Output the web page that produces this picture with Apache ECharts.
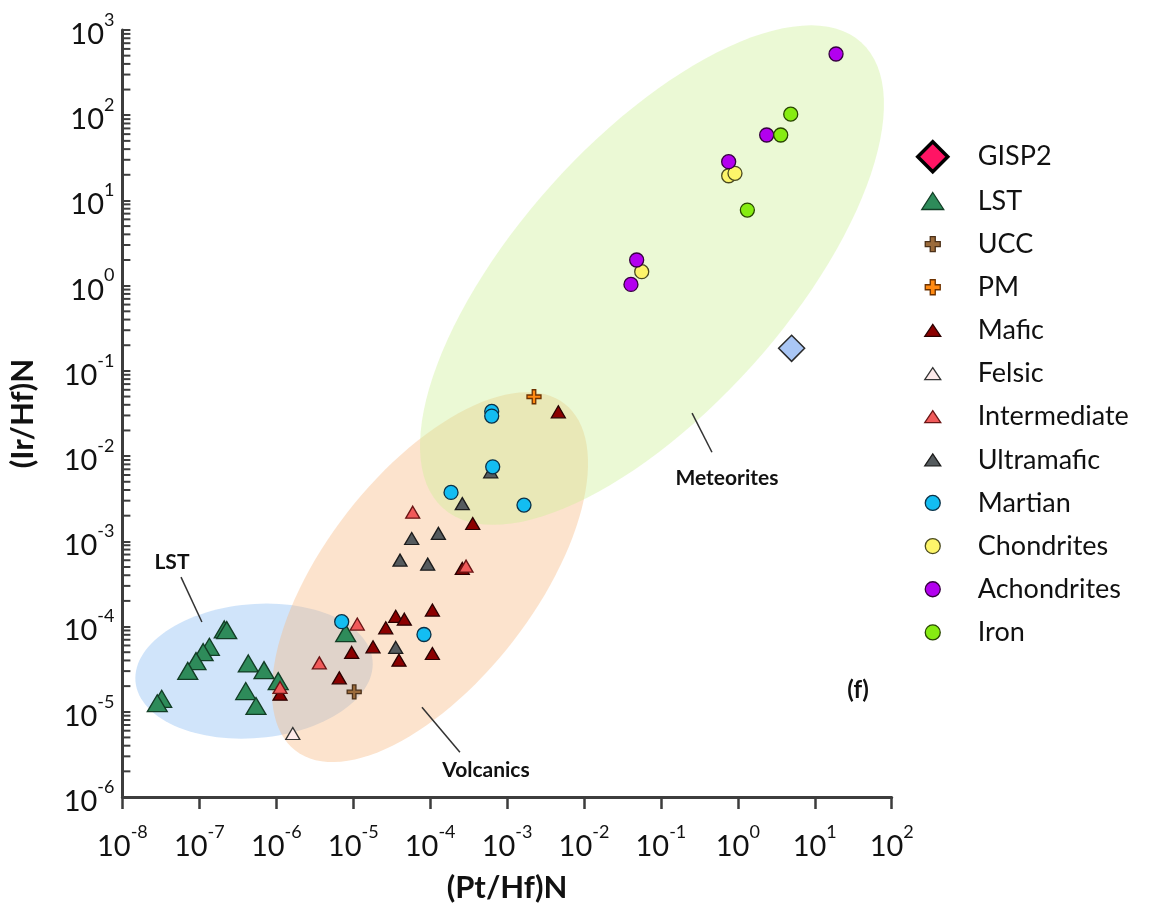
<!DOCTYPE html>
<html>
<head>
<meta charset="utf-8">
<script src="https://cdn.jsdelivr.net/npm/echarts@6/dist/echarts.min.js"></script>
<style>
  html, body { margin: 0; padding: 0; background: #ffffff; }
  #chart { width: 1149px; height: 913px; }
</style>
</head>
<body>
<div id="chart"></div>
<script>
// Samples as [(Pt/Hf)N, (Ir/Hf)N] pairs
const gisp2 = [[5.0, 0.184]];
const lst = [
  [2.11e-7, 9.25e-5], [2.27e-7, 9.08e-5], [1.35e-7, 5.78e-5], [1.12e-7, 5.01e-5],
  [9.05e-8, 3.93e-5], [7.07e-8, 3.02e-5], [3.24e-8, 1.42e-5], [2.84e-8, 1.26e-5],
  [4.33e-7, 3.69e-5], [6.93e-7, 3.08e-5], [1.06e-6, 2.29e-5], [4.01e-7, 1.75e-5],
  [5.45e-7, 1.17e-5], [7.99e-6, 8.37e-5]
];
const ucc = [[1.03e-5, 1.71e-5]];
const pm = [[2.24e-3, 0.0497]];
const mafic = [
  [4.64e-3, 0.0331], [3.58e-4, 1.62e-3], [2.62e-4, 4.81e-4], [1.07e-4, 1.56e-4],
  [3.57e-5, 1.32e-4], [4.62e-5, 1.22e-4], [2.65e-5, 9.66e-5], [1.81e-5, 5.78e-5],
  [9.56e-6, 4.97e-5], [3.94e-5, 4.03e-5], [1.07e-4, 4.83e-5], [6.60e-6, 2.50e-5],
  [1.12e-6, 1.61e-5]
];
const felsic = [[1.64e-6, 5.56e-6]];
const intermediate = [
  [5.94e-5, 2.20e-3], [2.93e-4, 5.12e-4], [1.13e-5, 1.07e-4], [3.63e-6, 3.75e-5],
  [1.12e-6, 1.93e-5]
];
const ultramafic = [
  [6.13e-4, 6.54e-3], [2.62e-4, 2.77e-3], [5.76e-5, 1.08e-3], [1.28e-4, 1.24e-3],
  [4.06e-5, 6.02e-4], [9.30e-5, 5.40e-4], [3.57e-5, 5.69e-5]
];
const martian = [
  [6.32e-4, 0.0335], [6.32e-4, 0.0295], [6.51e-4, 7.49e-3], [1.87e-4, 3.75e-3],
  [1.66e-3, 2.66e-3], [7.09e-6, 1.14e-4], [8.32e-5, 8.07e-5]
];
const chondrites = [[0.760, 19.5], [0.918, 20.8], [0.0563, 1.46]];
const achondrites = [[18.9, 523], [2.37, 58.6], [0.760, 28.5], [0.0484, 2.00], [0.0408, 1.035]];
const iron = [[4.87, 103], [3.61, 58.6], [1.33, 7.71]];

// Field ellipses in log10 units: centre, semi-major and semi-minor vectors
const fieldNames = ['LST', 'Volcanics', 'Meteorites'];
const fieldCentres = [[-6.289, -4.523], [-4.002, -3.420], [-1.116, 0.124]];
const fieldMajor = [[1.541, 0.1215], [1.749, 2.035], [2.718, 2.733]];
const fieldMinor = [[0.0758, -0.783], [1.078, -0.755], [1.306, -1.058]];
const fieldColours = ['rgba(150,195,245,0.45)', 'rgba(248,185,130,0.40)', 'rgba(205,240,150,0.40)'];

// Field labels with their leader lines
const noteText = ['LST', 'Volcanics', 'Meteorites', '(f)'];
const noteAt = [[4.41e-8, 5.70e-4], [5.32e-4, 2.07e-6], [0.722, 5.52e-3], [36.5, 1.79e-5]];
const noteFrom = [[5.78e-8, 3.80e-4], [2.44e-4, 3.36e-6], [0.461, 0.0111], null];
const noteTo = [[1.08e-7, 1.13e-4], [7.83e-5, 1.13e-5], [0.254, 0.032], null];

// Axis ranges (decades)
const xMinExp = -8, xMaxExp = 2;
const yMinExp = -6, yMaxExp = 3;

const FONT = 'Lato, "Open Sans", sans-serif';
const INK = '#111111';
const AXIS = '#3d3d3d';

// Legend icons: a fixed 57x34 box so the glyph sits at the left and the text further right
const BOX = 'M0,0L0,0M57,34L57,34';
const icons = {
  diamond: 'path://' + BOX + 'M17,2L32,17L17,32L2,17Z',
  bigTri: 'path://' + BOX + 'M17,8.5L28,25.5L6,25.5Z',
  cross: 'path://' + BOX + 'M14.5,9.5H19.5V14.5H24.5V19.5H19.5V24.5H14.5V19.5H9.5V14.5H14.5Z',
  tri: 'path://' + BOX + 'M17,11L25,23L9,23Z',
  circle: 'path://' + BOX + 'M9.5,17A7.5,7.5 0 1 1 24.5,17A7.5,7.5 0 1 1 9.5,17Z'
};
const CROSS = 'path://M3,0H5V3H8V5H5V8H3V5H0V3H3Z';

const groups = [
  { name: 'GISP2', data: gisp2, symbol: 'diamond', size: [26, 26], fill: '#ff1464', line: '#000000', icon: icons.diamond, iconBorder: 3.5 },
  { name: 'LST', data: lst, symbol: 'triangle', size: [20, 17], fill: '#2e8b5a', line: '#123d25', icon: icons.bigTri },
  { name: 'UCC', data: ucc, symbol: CROSS, size: 14, fill: '#9b6b3b', line: '#4b3018', icon: icons.cross },
  { name: 'PM', data: pm, symbol: CROSS, size: 14, fill: '#ff8a12', line: '#6e3200', icon: icons.cross },
  { name: 'Mafic', data: mafic, symbol: 'triangle', size: [14, 12], fill: '#8b0000', line: '#2a0000', icon: icons.tri },
  { name: 'Felsic', data: felsic, symbol: 'triangle', size: [14, 12], fill: '#fdeaea', line: '#333333', icon: icons.tri },
  { name: 'Intermediate', data: intermediate, symbol: 'triangle', size: [14, 12], fill: '#f05a5a', line: '#6a1515', icon: icons.tri },
  { name: 'Ultramafic', data: ultramafic, symbol: 'triangle', size: [14, 12], fill: '#555b5e', line: '#1c1c1c', icon: icons.tri },
  { name: 'Martian', data: martian, symbol: 'circle', size: 14, fill: '#13bdf2', line: '#0b3147', icon: icons.circle },
  { name: 'Chondrites', data: chondrites, symbol: 'circle', size: 14, fill: '#fdf56a', line: '#4a4a20', icon: icons.circle },
  { name: 'Achondrites', data: achondrites, symbol: 'circle', size: 14, fill: '#b300ef', line: '#35003f', icon: icons.circle },
  { name: 'Iron', data: iron, symbol: 'circle', size: 14, fill: '#86ec12', line: '#284600', icon: icons.circle }
];

// The plotted GISP2 sample is drawn in pale blue
const gisp2PointStyle = { color: '#a9c6f5', borderColor: '#2a2a2a', borderWidth: 1.5 };

function expLabel(v) {
  const e = Math.round(Math.log10(v));
  return '{b|10}{e|' + e + '}';
}
const tickRich = {
  b: { fontFamily: FONT, fontSize: 29, color: INK, padding: [9, 0, 0, 0] },
  e: { fontFamily: FONT, fontSize: 18, color: INK, verticalAlign: 'top' }
};

// Log-spaced minor ticks (2..9 within each decade) along the y axis
const yMinorTicks = [];
for (let d = yMinExp; d < yMaxExp; d++) {
  for (let k = 2; k <= 9; k++) yMinorTicks.push([Math.pow(10, xMinExp), k * Math.pow(10, d), 0]);
}

const fieldSeries = {
  type: 'custom',
  name: 'fields',
  silent: true,
  z: 1,
  data: fieldCentres.map((c, i) => [Math.pow(10, c[0]), Math.pow(10, c[1]), i]),
  encode: { x: 0, y: 1 },
  renderItem: function (params, api) {
    const i = api.value(2);
    const c = fieldCentres[i], u = fieldMajor[i], w = fieldMinor[i];
    const pts = [];
    const n = 120;
    for (let k = 0; k < n; k++) {
      const t = (2 * Math.PI * k) / n;
      const lx = c[0] + u[0] * Math.cos(t) + w[0] * Math.sin(t);
      const ly = c[1] + u[1] * Math.cos(t) + w[1] * Math.sin(t);
      pts.push(api.coord([Math.pow(10, lx), Math.pow(10, ly)]));
    }
    return {
      type: 'polygon',
      shape: { points: pts },
      style: { fill: fieldColours[i], stroke: null }
    };
  }
};

const minorTickSeries = {
  type: 'custom',
  name: 'yMinorTicks',
  silent: true,
  z: 5,
  data: yMinorTicks,
  encode: { x: 0, y: 1 },
  renderItem: function (params, api) {
    const p = api.coord([api.value(0), api.value(1)]);
    return {
      type: 'line',
      shape: { x1: p[0] + 1, y1: p[1], x2: p[0] + 8, y2: p[1] },
      style: { stroke: AXIS, lineWidth: 2 }
    };
  }
};

const noteSeries = {
  type: 'custom',
  name: 'notes',
  silent: true,
  z: 3,
  data: noteAt.map((a, i) => [a[0], a[1], i]),
  encode: { x: 0, y: 1 },
  renderItem: function (params, api) {
    const i = api.value(2);
    const at = api.coord(noteAt[i]);
    const children = [{
      type: 'text',
      style: {
        text: noteText[i], x: at[0], y: at[1], align: 'center', verticalAlign: 'middle',
        font: 'bold ' + (i === 3 ? 24 : 21) + 'px ' + FONT, fill: INK
      }
    }];
    if (noteFrom[i]) {
      const a = api.coord(noteFrom[i]);
      const b = api.coord(noteTo[i]);
      children.push({
        type: 'line',
        shape: { x1: a[0], y1: a[1], x2: b[0], y2: b[1] },
        style: { stroke: '#333333', lineWidth: 1.5 }
      });
    }
    return { type: 'group', children: children };
  }
};

const pointSeries = groups.map(g => ({
  type: 'scatter',
  name: g.name,
  z: 4,
  symbol: g.symbol,
  symbolSize: g.size,
  itemStyle: { color: g.fill, borderColor: g.line, borderWidth: 1.3, opacity: 1 },
  data: g.data.map(d => g.name === 'GISP2' ? { value: d, itemStyle: gisp2PointStyle } : d),
  emphasis: { disabled: true }
}));

const chart = echarts.init(document.getElementById('chart'), null, { renderer: 'canvas' });
chart.setOption({
  backgroundColor: '#ffffff',
  animation: false,
  grid: { left: 122.4, right: 257.3, top: 30, bottom: 116, containLabel: false, outerBoundsMode: 'none' },
  legend: {
    orient: 'vertical',
    left: 909,
    top: 133,
    itemWidth: 57,
    itemHeight: 34,
    itemGap: 7.84,
    selectedMode: false,
    textStyle: { fontFamily: FONT, fontSize: 27, color: INK },
    data: groups.map(g => ({
      name: g.name,
      icon: g.icon,
      itemStyle: { color: g.fill, borderColor: g.line, borderWidth: g.iconBorder || 1.3 }
    }))
  },
  xAxis: {
    type: 'log',
    logBase: 10,
    min: Math.pow(10, xMinExp),
    max: Math.pow(10, xMaxExp),
    interval: 1,
    splitNumber: 10,
    name: '(Pt/Hf)N',
    nameLocation: 'middle',
    nameGap: 75,
    nameTextStyle: { fontFamily: FONT, fontSize: 31, fontWeight: 'bold', color: INK },
    axisLine: { show: true, lineStyle: { color: AXIS, width: 3 } },
    axisTick: { show: true, inside: false, length: 12, lineStyle: { color: AXIS, width: 2.5 } },
    minorTick: { show: false },
    splitLine: { show: false },
    axisLabel: { margin: 26, hideOverlap: false, interval: 0, formatter: expLabel, rich: tickRich }
  },
  yAxis: {
    type: 'log',
    logBase: 10,
    min: Math.pow(10, yMinExp),
    max: Math.pow(10, yMaxExp),
    interval: 1,
    splitNumber: 9,
    name: '(Ir/Hf)N',
    nameLocation: 'middle',
    nameGap: 84,
    nameRotate: 90,
    nameTextStyle: { fontFamily: FONT, fontSize: 31, fontWeight: 'bold', color: INK },
    axisLine: { show: true, lineStyle: { color: AXIS, width: 3 } },
    axisTick: { show: true, inside: true, length: 8, lineStyle: { color: AXIS, width: 2 } },
    minorTick: { show: false },
    splitLine: { show: false },
    axisLabel: { margin: 8, formatter: expLabel, rich: tickRich }
  },
  series: [fieldSeries, noteSeries, minorTickSeries].concat(pointSeries)
});
</script>
</body>
</html>
